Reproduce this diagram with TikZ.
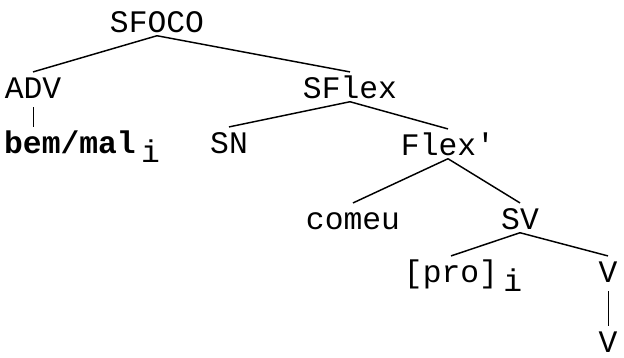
\documentclass[tikz,border=0pt]{standalone}
\usepackage{fontspec}
\setmonofont{Liberation Mono}
\usepackage{tikz}

\newcommand{\idx}[1]{\rlap{\hspace{4pt}\raisebox{-7pt}{#1}}}

\begin{document}
\begin{tikzpicture}
  [x=0.75pt,y=-0.75pt,line width=1.1pt,
   every node/.style={anchor=base,inner sep=0pt,text height=19pt,text depth=2.25pt,
     font=\ttfamily\fontsize{23.5}{28}\selectfont}]
  \useasboundingbox (0,0) rectangle (624,357);
  \node (foco)  at (157,32)  {SFOCO};
  \node (adv)   at (33,98)   {ADV};
  \node (sflex) at (350,98)  {SFlex};
  \node (bem)   at (70,153)  {\textbf{bem/mal}\idx{i}};
  \node (sn)    at (229,153) {SN};
  \node (flex)  at (448,155) {Flex'};
  \node (comeu) at (353,229) {comeu};
  \node (sv)    at (520,229) {SV};
  \node (pro)   at (451,282) {[pro]\idx{i}};
  \node (v1)    at (608,282) {V};
  \node (v2)    at (608,352) {V};

\foreach \from/\to in
{foco/adv, foco/sflex, sflex/sn, sflex/flex, flex/comeu, flex/sv, sv/pro, sv/v1}
    \draw (\from.south) -- (\to.north);
\foreach \from/\to/\dx in {adv/bem/6, v1/v2/-2}
    \draw[line width=0.7pt,shorten <=4pt,xshift=\dx pt] (\from.south) -- (\from.south |- \to.north);
\end{tikzpicture}
\end{document}
